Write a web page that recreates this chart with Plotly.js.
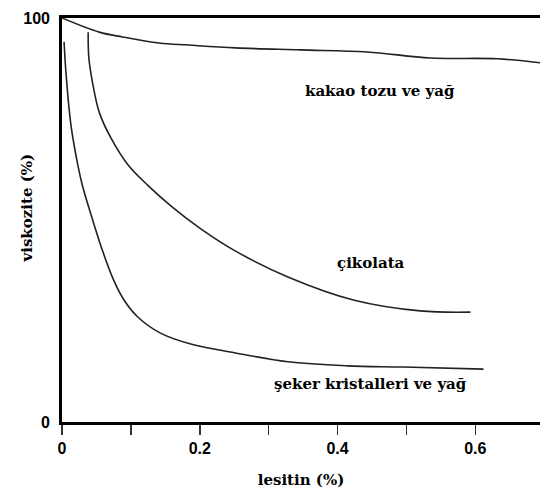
<!DOCTYPE html>
<html>
<head>
<meta charset="utf-8">
<script src="https://cdn.plot.ly/plotly-3.0.1.min.js"></script>
<style>html,body{margin:0;padding:0;background:#fff;}#chart{width:540px;height:494px;}</style>
</head>
<body>
<div id="chart"></div>
<script>
// kakao tozu ve yağ
const kakaoX = [0, 0.054, 0.088, 0.141, 0.184, 0.252, 0.346, 0.443, 0.535, 0.632, 0.70];
const kakaoY = [100, 96.5, 95.3, 93.8, 93.3, 92.6, 92.1, 91.6, 90.1, 89.9, 88.8];
// çikolata
const cikolataX = [0.038, 0.039, 0.045, 0.054, 0.071, 0.096, 0.125, 0.158, 0.200, 0.252, 0.328, 0.423, 0.520, 0.593];
const cikolataY = [96.5, 90.1, 83.4, 76.7, 70.3, 63.6, 58.5, 53.5, 48.0, 42.3, 35.9, 30.2, 27.5, 27.2];
// şeker kristalleri ve yağ
const sekerX = [0.003, 0.006, 0.013, 0.023, 0.030, 0.042, 0.057, 0.075, 0.090, 0.110, 0.143, 0.191, 0.252, 0.328, 0.414, 0.496, 0.612];
const sekerY = [94.1, 85.9, 73.5, 63.6, 58.3, 51.4, 43.3, 35.1, 30.2, 26.0, 22.0, 19.1, 17.1, 14.9, 13.9, 13.6, 13.1];

const labelText = ["kakao tozu ve yağ", "çikolata", "şeker kristalleri ve yağ"];
const labelX = [0.462, 0.448, 0.448];
const labelY = [82, 39.4, 9.4];

const xTickVals = [0, 0.2, 0.4, 0.6];
const xTickText = ["0", "0.2", "0.4", "0.6"];
const yTickVals = [0, 100];
const yTickText = ["0", "100"];

const lineStyle = {color: "#222", width: 1.6, shape: "spline", smoothing: 1};
const traces = [
  {x: kakaoX, y: kakaoY, mode: "lines", line: lineStyle, hoverinfo: "skip"},
  {x: cikolataX, y: cikolataY, mode: "lines", line: lineStyle, hoverinfo: "skip"},
  {x: sekerX, y: sekerY, mode: "lines", line: lineStyle, hoverinfo: "skip"}
];

const serif = {family: "DejaVu Serif", size: 15, color: "#000", weight: "bold"};
const serifTitle = {family: "DejaVu Serif", size: 15, color: "#000", weight: "bold"};
const sans = {family: "Liberation Sans", size: 16, color: "#000", weight: "bold"};
const annotations = labelText.map((t, i) => ({
  x: labelX[i], y: labelY[i], xref: "x", yref: "y", text: t, showarrow: false,
  font: serif, xanchor: "center", yanchor: "middle"
}));
annotations.push({
  x: -0.074, y: 0.53, xref: "paper", yref: "paper", text: "viskozite (%)", showarrow: false,
  textangle: -90, font: serifTitle, xanchor: "center", yanchor: "middle"
});

const layout = {
  width: 540, height: 494,
  margin: {l: 62, r: 0, t: 18, b: 72},
  paper_bgcolor: "#fff", plot_bgcolor: "#fff",
  showlegend: false,
  xaxis: {
    range: [0, 0.694], showgrid: false, zeroline: false,
    showline: true, linecolor: "#000", linewidth: 2.8, mirror: true,
    ticks: "outside", ticklen: 10, tickwidth: 1.5, tickcolor: "#333",
    tickvals: xTickVals, ticktext: xTickText,
    minor: {dtick: 0.1, tick0: 0, ticks: "outside", ticklen: 10, tickwidth: 1.5, tickcolor: "#333"},
    tickfont: sans,
    title: {text: "lesitin (%)", font: serifTitle, standoff: 19}
  },
  yaxis: {
    range: [0, 100], showgrid: false, zeroline: false,
    showline: true, linecolor: "#000", linewidth: 2.8,
    ticks: "", tickvals: yTickVals, ticktext: yTickText,
    tickfont: sans,
    ticklabelstandoff: 6
  },
  annotations: annotations
};

Plotly.newPlot("chart", traces, layout, {staticPlot: true, displayModeBar: false});
</script>
</body>
</html>
